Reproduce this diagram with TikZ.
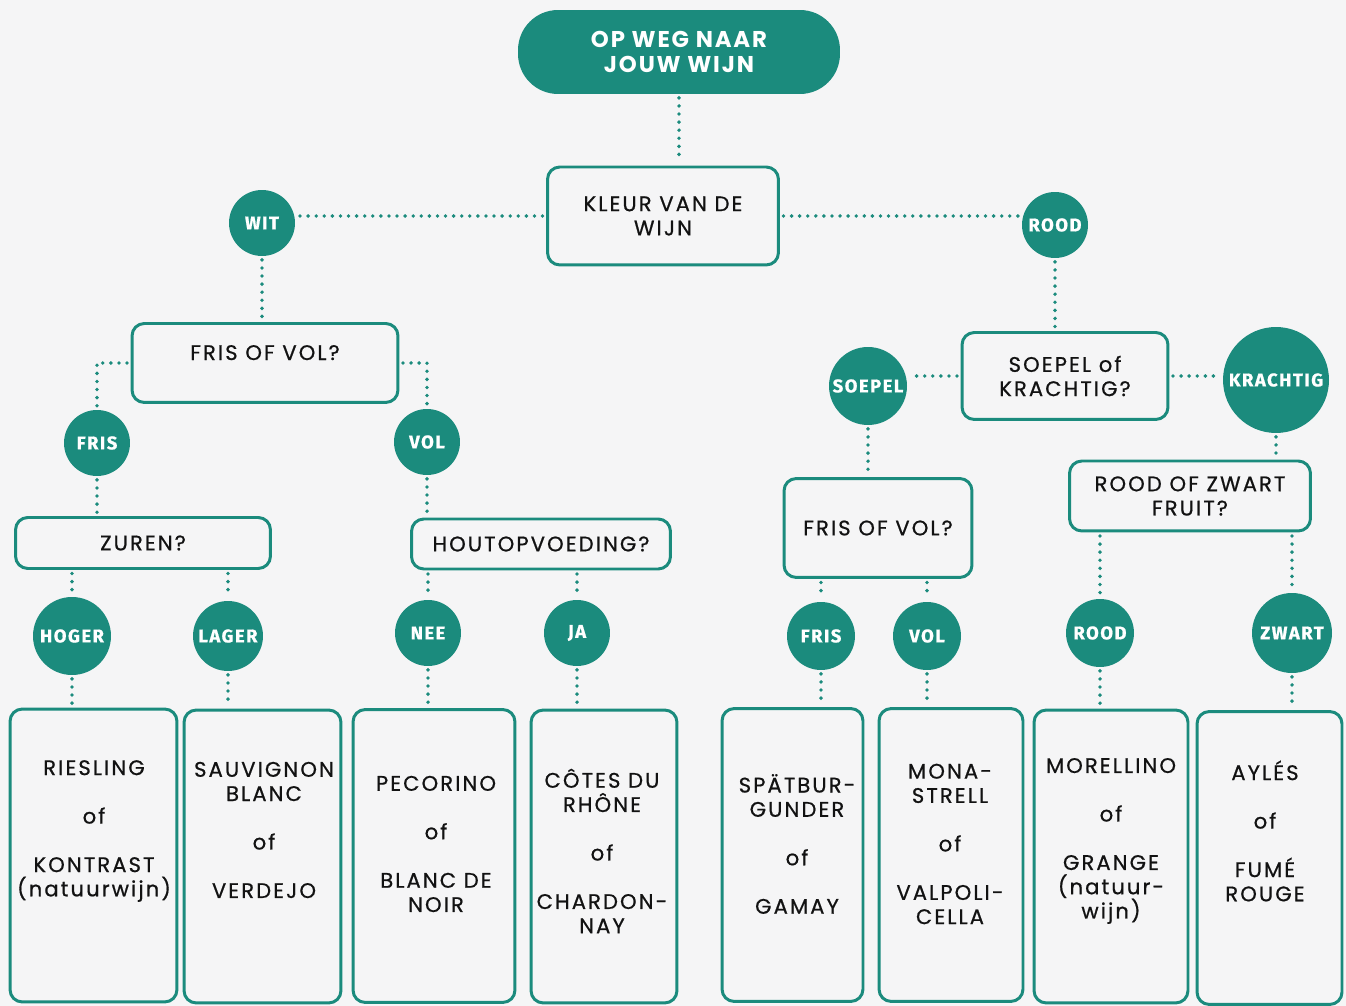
\documentclass[tikz,border=0pt]{standalone}
\usepackage{fontspec}
\setmainfont{Poppins}
\newfontfamily\boxfont{Poppins}[LetterSpace=10, FakeBold=0.7]
\newfontfamily\titlefont{Poppins}[LetterSpace=8]
\newfontfamily\circfont{Fira Sans}[LetterSpace=8, FakeBold=0.8]
\usetikzlibrary{positioning}

\definecolor{wijngroen}{RGB}{27,139,125}
\definecolor{marmer}{RGB}{245,245,246}
\definecolor{inkt}{RGB}{18,18,18}

\begin{document}
\begin{tikzpicture}[
    x=0.02cm, y=-0.02cm,
    pill/.style={rectangle, fill=wijngroen, text=white, rounded corners=0.8cm, minimum width=6.44cm, minimum height=1.68cm, align=center, font=\titlefont\bfseries\fontsize{13}{14.5}\selectfont},
    vraag/.style={rectangle, draw=wijngroen, line width=1.7pt, rounded corners=7pt, align=center, text=inkt, font=\boxfont\fontsize{12}{13.8}\selectfont},
    keuze/.style={circle, fill=wijngroen, text=white, inner sep=0pt, font=\circfont\bfseries\fontsize{10.5}{12}\selectfont},
    wijn/.style={rectangle, draw=wijngroen, line width=1.7pt, rounded corners=7pt, minimum height=5.86cm},
    wijntekst/.style={align=center, text=inkt, inner sep=0pt, font=\boxfont\fontsize{12}{13.8}\selectfont},
    stip/.style={draw=wijngroen, line width=2.2pt, line cap=round, dash pattern=on 0pt off 4.6pt, shorten <=2pt, shorten >=2pt}
]

% Background
\useasboundingbox (0,0) rectangle (1346,1006);
\fill[marmer] (0,0) rectangle (1346,1006);

% Top
\node[pill] (title) at (679,52) {OP WEG NAAR\\JOUW WIJN};
\node[vraag, minimum width=4.62cm, minimum height=1.96cm] (kleur) at (663,216) {KLEUR VAN DE\\WIJN};
\node[keuze, minimum size=1.32cm] (wit) at (262,223) {WIT};
\node[keuze, minimum size=1.32cm] (rood) at (1055,225) {ROOD};

% White branch
\node[vraag, minimum width=5.32cm, minimum height=1.58cm, text height=9pt, text depth=12.4pt] (frisvol_w) at (265,363) {FRIS OF VOL?};
\node[keuze, minimum size=1.32cm] (fris_w) at (97,443) {FRIS};
\node[keuze, minimum size=1.32cm] (vol_w) at (427,442) {VOL};

\node[vraag, minimum width=5.1cm, minimum height=1.02cm] (zuren) at (143,543) {ZUREN?};
\node[vraag, minimum width=5.18cm, minimum height=1.0cm] (hout) at (541,544) {HOUTOPVOEDING?};

\node[keuze, minimum size=1.56cm] (hoger) at (72,636) {HOGER};
\node[keuze, minimum size=1.4cm] (lager) at (228,636) {LAGER};
\node[keuze, minimum size=1.32cm] (nee) at (428,633) {NEE};
\node[keuze, minimum size=1.32cm] (ja) at (577,633) {JA};

\node[wijn, minimum width=3.34cm] (riesling) at (93.5,855.5) {};
\node[wijn, minimum width=3.14cm] (sauvignon) at (262.5,856.5) {};
\node[wijn, minimum width=3.24cm] (pecorino) at (434,856) {};
\node[wijn, minimum width=2.92cm] (cotes) at (604,856.5) {};

\node[wijntekst] (riesling_txt) at (94,831) {RIESLING\\[13.8pt]of\\[13.8pt]KONTRAST\\(natuurwijn)};
\node[wijntekst] (sauvignon_txt) at (264,830) {SAUVIGNON\\BLANC\\[13.8pt]of\\[13.8pt]VERDEJO};
\node[wijntekst] (pecorino_txt) at (436,844) {PECORINO\\[13.8pt]of\\[13.8pt]BLANC DE\\NOIR};
\node[wijntekst] (cotes_txt) at (602,851) {CÔTES DU\\RHÔNE\\[13.8pt]of\\[13.8pt]CHARDON-\\NAY};

% Red branch
\node[vraag, minimum width=4.12cm, minimum height=1.74cm] (soepkracht) at (1065,376) {SOEPEL of\\KRACHTIG?};
\node[keuze, minimum size=1.56cm] (soepel) at (868,386) {SOEPEL};
\node[keuze, minimum size=2.12cm] (krachtig) at (1276,380) {KRACHTIG};

\node[vraag, minimum width=3.76cm, minimum height=1.98cm] (frisvol_r) at (878,528) {FRIS OF VOL?};
\node[vraag, minimum width=4.82cm, minimum height=1.4cm] (fruit) at (1190,496) {ROOD OF ZWART\\FRUIT?};

\node[keuze, minimum size=1.36cm] (fris_r) at (821,636) {FRIS};
\node[keuze, minimum size=1.36cm] (vol_r) at (927,636) {VOL};
\node[keuze, minimum size=1.36cm] (rood_f) at (1100,633) {ROOD};
\node[keuze, minimum size=1.6cm] (zwart) at (1292,633) {ZWART};

\node[wijn, minimum width=2.82cm] (spaet) at (792.5,855) {};
\node[wijn, minimum width=2.88cm] (mona) at (951,855) {};
\node[wijn, minimum width=3.08cm] (morellino) at (1111,856.5) {};
\node[wijn, minimum width=2.9cm] (ayles) at (1269.5,858) {};

\node[wijntekst] (spaet_txt) at (797,844) {SPÄTBUR-\\GUNDER\\[13.8pt]of\\[13.8pt]GAMAY};
\node[wijntekst] (mona_txt) at (950,844) {MONA-\\STRELL\\[13.8pt]of\\[13.8pt]VALPOLI-\\CELLA};
\node[wijntekst] (morellino_txt) at (1111,841) {MORELLINO\\[13.8pt]of\\[13.8pt]GRANGE\\(natuur-\\wijn)};
\node[wijntekst] (ayles_txt) at (1265,831) {AYLÉS\\[13.8pt]of\\[13.8pt]FUMÉ\\ROUGE};

% Dotted connectors
\draw[stip] (title.south) -- (title.south |- kleur.north);
\draw[stip] (kleur.west) -- (kleur.west -| wit.east);
\draw[stip] (kleur.east) -- (kleur.east -| rood.west);

\draw[stip] (wit.south) -- (wit.south |- frisvol_w.north);
\draw[stip] (frisvol_w.west) -| (fris_w.north);
\draw[stip] (frisvol_w.east) -| (vol_w.north);
\draw[stip] (fris_w.south) -- (fris_w.south |- zuren.north);
\draw[stip] (vol_w.south) -- (vol_w.south |- hout.north);
\draw[stip] (hoger.north |- zuren.south) -- (hoger.north);
\draw[stip] (lager.north |- zuren.south) -- (lager.north);
\draw[stip] (nee.north |- hout.south) -- (nee.north);
\draw[stip] (ja.north |- hout.south) -- (ja.north);
\draw[stip] (hoger.south) -- (hoger.south |- riesling.north);
\draw[stip] (lager.south) -- (lager.south |- sauvignon.north);
\draw[stip] (nee.south) -- (nee.south |- pecorino.north);
\draw[stip] (ja.south) -- (ja.south |- cotes.north);

\draw[stip] (rood.south) -- (rood.south |- soepkracht.north);
\draw[stip] (soepkracht.west) -- (soepkracht.west -| soepel.east);
\draw[stip] (soepkracht.east) -- (soepkracht.east -| krachtig.west);
\draw[stip] (soepel.south) -- (soepel.south |- frisvol_r.north);
\draw[stip] (krachtig.south) -- (krachtig.south |- fruit.north);
\draw[stip] (fris_r.north |- frisvol_r.south) -- (fris_r.north);
\draw[stip] (vol_r.north |- frisvol_r.south) -- (vol_r.north);
\draw[stip] (rood_f.north |- fruit.south) -- (rood_f.north);
\draw[stip] (zwart.north |- fruit.south) -- (zwart.north);
\draw[stip] (fris_r.south) -- (fris_r.south |- spaet.north);
\draw[stip] (vol_r.south) -- (vol_r.south |- mona.north);
\draw[stip] (rood_f.south) -- (rood_f.south |- morellino.north);
\draw[stip] (zwart.south) -- (zwart.south |- ayles.north);

\end{tikzpicture}
\end{document}
